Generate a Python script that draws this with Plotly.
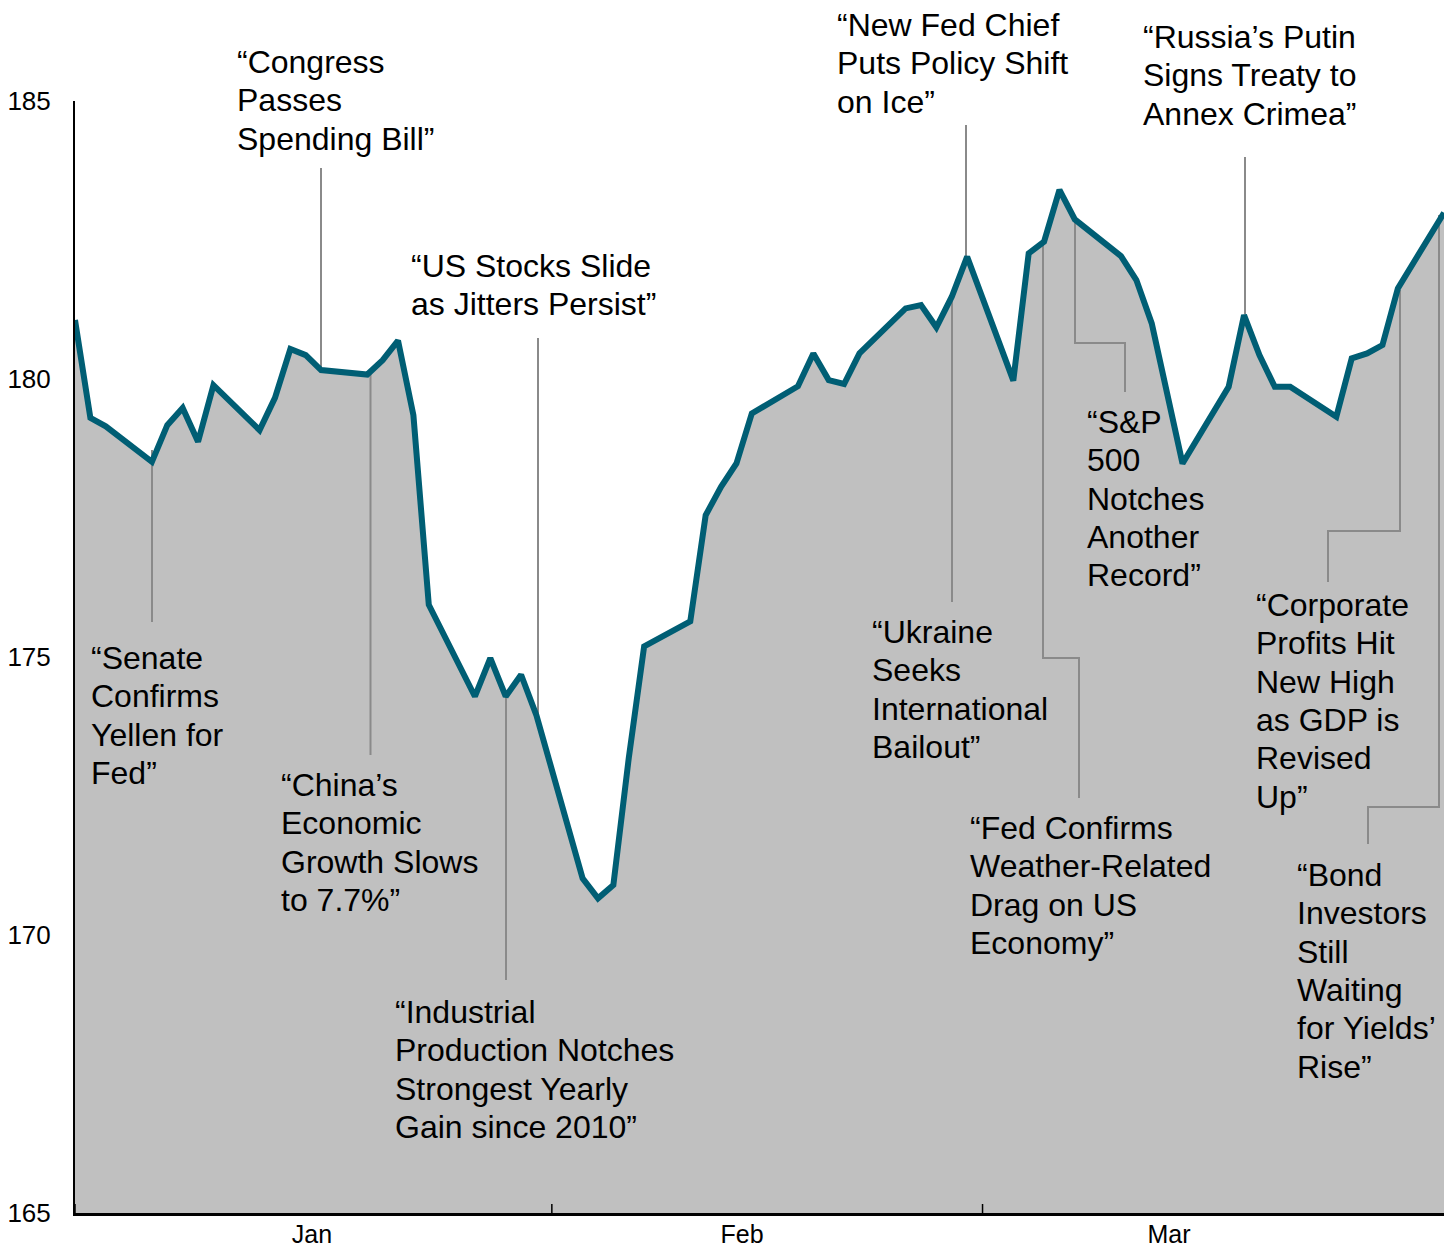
import plotly.graph_objects as go
from datetime import datetime, timedelta

# ---------------- data ----------------
dates = [
    "2014-01-01", "2014-01-02", "2014-01-03", "2014-01-06", "2014-01-07", "2014-01-08",
    "2014-01-09", "2014-01-10", "2014-01-13", "2014-01-14", "2014-01-15", "2014-01-16",
    "2014-01-17", "2014-01-20", "2014-01-21", "2014-01-22", "2014-01-23", "2014-01-24",
    "2014-01-27", "2014-01-28", "2014-01-29", "2014-01-30", "2014-01-31",
    "2014-02-03", "2014-02-04", "2014-02-05", "2014-02-06", "2014-02-07", "2014-02-10",
    "2014-02-11", "2014-02-12", "2014-02-13", "2014-02-14", "2014-02-17", "2014-02-18",
    "2014-02-19", "2014-02-20", "2014-02-21", "2014-02-24", "2014-02-25", "2014-02-26",
    "2014-02-27", "2014-02-28",
    "2014-03-03", "2014-03-04", "2014-03-05", "2014-03-06", "2014-03-07", "2014-03-10",
    "2014-03-11", "2014-03-12", "2014-03-13", "2014-03-14", "2014-03-17", "2014-03-18",
    "2014-03-19", "2014-03-20", "2014-03-21", "2014-03-24", "2014-03-25", "2014-03-26",
    "2014-03-27", "2014-03-28", "2014-03-31",
]
values = [
    181.06, 179.30, 179.15, 178.51, 179.17, 179.48,
    178.87, 179.89, 179.08, 179.66, 180.54, 180.43,
    180.16, 180.08, 180.34, 180.69, 179.35, 175.94,
    174.29, 174.98, 174.29, 174.68, 173.95,
    171.02, 170.66, 170.90, 173.18, 175.19, 175.64,
    177.55, 178.06, 178.48, 179.38, 179.87, 180.46,
    179.98, 179.91, 180.46, 181.27, 181.33, 180.93,
    181.48, 182.20,
    179.97, 182.26, 182.47, 183.40, 182.87, 182.21,
    181.78, 181.00, 179.75, 178.48, 179.86, 181.15,
    180.43, 179.86, 179.86, 179.32, 180.37, 180.46,
    180.61, 181.63, 182.99,
]

y_ticks = [165, 170, 175, 180, 185]
month_labels = ["Jan", "Feb", "Mar"]
month_starts = ["2014-01-01", "2014-02-01", "2014-03-01"]

headlines = [
    ["“Senate", "Confirms", "Yellen for", "Fed”"],
    ["“Congress", "Passes", "Spending Bill”"],
    ["“China’s", "Economic", "Growth Slows", "to 7.7%”"],
    ["“US Stocks Slide", "as Jitters Persist”"],
    ["“Industrial", "Production Notches", "Strongest Yearly", "Gain since 2010”"],
    ["“New Fed Chief", "Puts Policy Shift", "on Ice”"],
    ["“Ukraine", "Seeks", "International", "Bailout”"],
    ["“Fed Confirms", "Weather-Related", "Drag on US", "Economy”"],
    ["“S&amp;P", "500", "Notches", "Another", "Record”"],
    ["“Russia’s Putin", "Signs Treaty to", "Annex Crimea”"],
    ["“Corporate", "Profits Hit", "New High", "as GDP is", "Revised", "Up”"],
    ["“Bond", "Investors", "Still", "Waiting", "for Yields’", "Rise”"],
]

# ---------------- layout geometry (pixels) ----------------
W, H = 1453, 1247
ML, MR, MT, MB = 75, 9, 101, 34
PW, PH = W - ML - MR, H - MT - MB
X0 = datetime(2014, 1, 1)
X1 = datetime(2014, 3, 31)
DAYS = (X1 - X0).days
Y0, Y1 = 165, 185


def px_date(px):
    return X0 + timedelta(days=(px - ML) / PW * DAYS)


def py_val(py):
    return Y1 - (py - MT) / PH * (Y1 - Y0)


# text block positions: (left px, first-line centre px)
text_pos = [
    (92, 658), (238, 62), (282, 785), (412, 266), (396, 1012), (838, 25),
    (873, 632), (971, 828), (1088, 422), (1144, 37), (1257, 605), (1298, 875),
]
TEXT_DX = -3
LINE_H = 38.3

# connector polylines in pixels
connectors = [
    [(152, 450), (152, 622)],
    [(321, 168), (321, 367)],
    [(370.5, 371), (370.5, 755)],
    [(538, 338), (538, 718)],
    [(506, 697), (506, 980)],
    [(966, 125), (966, 257)],
    [(952, 300), (952, 602)],
    [(1043, 243), (1043, 658), (1079, 658), (1079, 798)],
    [(1075, 220), (1075, 343), (1125, 343), (1125, 392)],
    [(1245, 157), (1245, 314)],
    [(1400, 290), (1400, 531), (1328, 531), (1328, 582)],
    [(1439, 215), (1439, 807), (1368, 807), (1368, 844)],
]

LINE_COLOR = "#005e74"
FILL_COLOR = "#c0c0c0"
CONN_COLOR = "#8a8a8a"
FONT = "Liberation Sans, Arial, Helvetica, sans-serif"

fig = go.Figure()

# filled area
fig.add_trace(go.Scatter(
    x=dates, y=values, mode="lines", fill="tozeroy",
    fillcolor=FILL_COLOR, line=dict(width=0, color=FILL_COLOR),
    hoverinfo="skip", showlegend=False,
))

# connectors
for pts in connectors:
    fig.add_trace(go.Scatter(
        x=[px_date(p[0]) for p in pts], y=[py_val(p[1]) for p in pts],
        mode="lines", line=dict(color=CONN_COLOR, width=2),
        hoverinfo="skip", showlegend=False, cliponaxis=False,
    ))

# main line
fig.add_trace(go.Scatter(
    x=dates, y=values, mode="lines",
    line=dict(color=LINE_COLOR, width=6), showlegend=False,
))

annotations = []
for lines, (tx, ty) in zip(headlines, text_pos):
    for i, ln in enumerate(lines):
        cy = ty + i * LINE_H
        annotations.append(dict(
            xref="paper", yref="paper",
            x=(tx + TEXT_DX - ML) / PW, y=(H - MB - cy) / PH,
            xanchor="left", yanchor="middle",
            text=ln, showarrow=False,
            font=dict(family=FONT, size=32, color="#000000"),
        ))

shapes = []
for d in month_starts:
    shapes.append(dict(
        type="line", xref="x", x0=d, x1=d,
        yref="y", ysizemode="pixel", yanchor=Y0, y0=-9, y1=9,
        line=dict(color="#000000", width=1.5),
    ))

# month label positions (px centres)
month_label_px = [312, 742, 1169]

fig.update_layout(
    width=W, height=H,
    margin=dict(l=ML, r=MR, t=MT, b=MB, pad=0, autoexpand=False),
    paper_bgcolor="white", plot_bgcolor="white",
    showlegend=False,
    annotations=annotations,
    shapes=shapes,
    font=dict(family=FONT, color="#000000"),
    xaxis=dict(
        type="date", range=[X0, X1], automargin=False,
        showgrid=False, zeroline=False,
        showline=True, linecolor="#000000", linewidth=3,
        tickvals=[px_date(p) for p in month_label_px], ticktext=month_labels,
        ticks="", ticklen=0, ticklabelstandoff=-3,
        tickfont=dict(family=FONT, size=25, color="#000000"),
    ),
    yaxis=dict(
        range=[Y0, Y1], automargin=False,
        tickvals=y_ticks, ticktext=[str(v) for v in y_ticks],
        showgrid=False, zeroline=False,
        showline=True, linecolor="#000000", linewidth=2,
        ticks="outside", ticklen=17, tickcolor="rgba(0,0,0,0)",
        tickfont=dict(family=FONT, size=26, color="#000000"),
    ),
)

fig.write_html("out.html", config={"displayModeBar": False},
               post_script="document.body.style.margin='0';")
